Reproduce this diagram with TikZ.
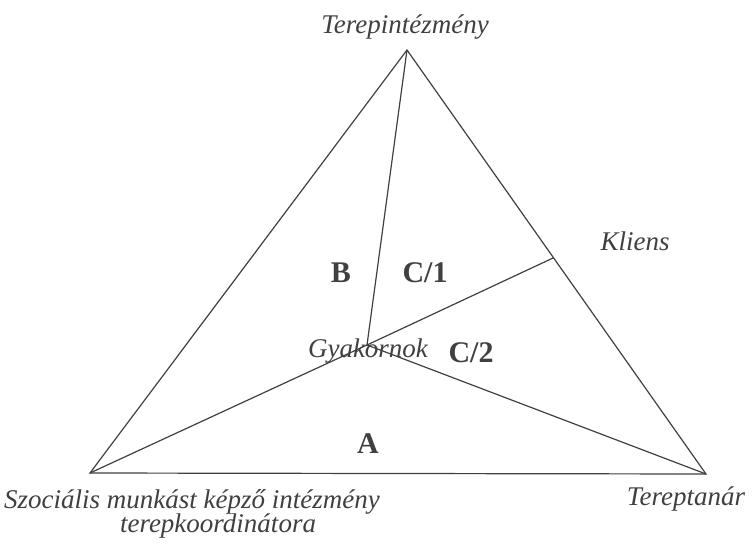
\documentclass[tikz,border=0pt]{standalone}
\usepackage{fontspec}
\setmainfont{Liberation Serif}
\usetikzlibrary{calc,positioning}
\definecolor{ink}{gray}{0.25}
\tikzset{
  role/.style={font=\fontsize{13.5}{16}\selectfont\itshape, text=ink, inner sep=0pt, anchor=base},
  zone/.style={font=\fontsize{15}{18}\selectfont\bfseries, text=ink, inner sep=0pt, anchor=base},
  side/.style={draw=ink, line width=0.6pt}
}
\begin{document}
\begin{tikzpicture}[x=0.5pt,y=-0.5pt]
  \useasboundingbox (0,0) rectangle (756,547);
  % corners of the triangle and the inner point
  \coordinate (T) at (407,50);
  \coordinate (L) at (90,473);
  \coordinate (R) at (706,474);
  \coordinate (G) at (367,345);
  \coordinate (K) at ($(T)!0.49!(R)$);
  \draw[side] (T) -- (L) -- (R) -- cycle;
  \draw[side] (T) -- (G) -- (K);
  \draw[side] (L) -- (G) -- (R);
  % roles
  \node[role] (terep) at (405,33) {Terepintézmény};
  \node[role] (kliens) at (635,250) {Kliens};
  \node[role] (tanar) at (686,505) {Tereptanár};
  \node[role] (koord) at (192,508) {Szociális munkást képző intézmény};
  \node[role] (koord2) at (218,532) {terepkoordinátora};
  \node[role] (gyak) at (368,357) {Gyakornok};
  % zones
  \node[zone] (zB) at (341,282) {B};
  \node[zone] (zC1) at (425,282) {C/1};
  \node[zone] (zC2) at (471,362) {C/2};
  \node[zone] (zA) at (368,453) {A};
\end{tikzpicture}
\end{document}
